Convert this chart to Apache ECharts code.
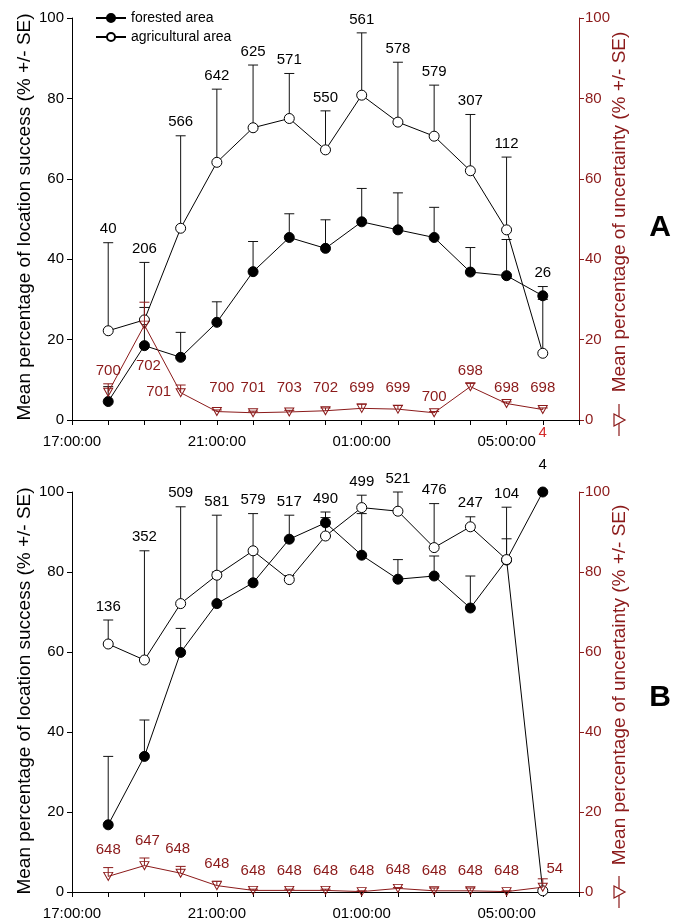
<!DOCTYPE html>
<html><head><meta charset="utf-8">
<script src="https://cdn.jsdelivr.net/npm/echarts@6/dist/echarts.min.js"></script>
<style>html,body{margin:0;padding:0;background:#fff}#c{width:683px;height:922px}</style>
</head><body><div id="c"></div>
<script>
// ---------- data ----------
const hours = [18,19,20,21,22,23,24,25,26,27,28,29,30]; // 18:00 ... 06:00 (next day)
const xTickLabels = ['17:00:00','21:00:00','01:00:00','05:00:00'];

// Panel A
const forestA    = [4.6, 18.5, 15.6, 24.3, 36.9, 45.4, 42.7, 49.3, 47.3, 45.4, 36.8, 35.9, 30.9];
const forestA_se = [3.7, 9.5, 6.2, 5.1, 7.5, 5.9, 7.1, 8.3, 9.2, 7.5, 6.1, 9.0, 2.3];
const agriA      = [22.2, 24.9, 47.7, 64.1, 72.7, 75.0, 67.2, 80.8, 74.1, 70.6, 62.0, 47.3, 16.6];
const agriA_se   = [21.9, 14.3, 23.0, 18.2, 15.6, 11.2, 9.7, 15.5, 14.9, 12.7, 14.0, 18.1, 13.4];
const uncA       = [6.9, 23.6, 6.8, 2.1, 1.8, 2.0, 2.3, 2.9, 2.7, 1.8, 8.3, 4.1, 2.6];
const uncA_se    = [2.1, 5.7, 1.9, 0.4, 0.4, 0.4, 0.7, 1.1, 0.9, 0.3, 0.8, 0.4, 0.4];
const countsA    = [40, 206, 566, 642, 625, 571, 550, 561, 578, 579, 307, 112, 26];
const uncCountsA = [700, 702, 701, 700, 701, 703, 702, 699, 699, 700, 698, 698, 698];
const noteA      = ['4'];

// Panel B
const forestB    = [16.8, 33.9, 59.9, 72.1, 77.3, 88.2, 92.3, 84.2, 78.2, 79.0, 71.0, 83.0, 100];
const forestB_se = [17.1, 9.1, 6.0, 7.9, 7.5, 6.0, 2.7, 10.4, 4.9, 5.0, 8.0, 5.3, 0];
const agriB      = [62.0, 58.0, 72.1, 79.2, 85.3, 78.1, 89.0, 96.1, 95.2, 86.1, 91.3, 83.1, 0.3];
const agriB_se   = [6.0, 27.3, 24.2, 15.0, 9.3, 1.0, 4.6, 3.1, 4.8, 11.0, 2.5, 13.1, 0];
const uncB       = [3.9, 6.6, 4.7, 1.6, 0.4, 0.4, 0.4, 0.1, 0.9, 0.3, 0.3, 0.1, 1.2];
const uncB_se    = [2.2, 1.9, 1.7, 1.1, 0.3, 0.3, 0.3, 0.2, 0.2, 0.7, 0.7, 0.2, 2.1];
const countsB    = [136, 352, 509, 581, 579, 517, 490, 499, 521, 476, 247, 104, 4];
const uncCountsB = [648, 647, 648, 648, 648, 648, 648, 648, 648, 648, 648, 648, 54];

// ---------- styling / layout ----------
const FONT = "'Liberation Sans', Arial, sans-serif";
const RED = '#8b1a1a';
const BRIGHT_RED = '#d42a2a';
const grids = [
  {left: 72, right: 104, top: 18, height: 402},
  {left: 72, right: 104, top: 492, height: 400}
];
// pixel nudges for a few hand-placed count labels in the original
const uncNudge = [
  {1: [4, 76], 2: [-22, 19], 3: [5, 0], 9: [0, 9]},
  {1: [3, 0], 2: [-3, 0], 12: [12, 8]}
];
const cntNudge = [{}, {12: [0, -14]}];
const uncBase = [5, 0.9];
const uncGap = [12.5, 17.5];
const cntGap = [13.5, 13.5];

const panels = [
  {forest: forestA, forestSe: forestA_se, agri: agriA, agriSe: agriA_se, unc: uncA, uncSe: uncA_se, counts: countsA, uncCounts: uncCountsA},
  {forest: forestB, forestSe: forestB_se, agri: agriB, agriSe: agriB_se, unc: uncB, uncSe: uncB_se, counts: countsB, uncCounts: uncCountsB}
];

function fmtX(v) {
  const k = (v - 17) / 4;
  return Number.isInteger(k) && k >= 0 && k < xTickLabels.length ? xTickLabels[k] : '';
}

function errRender(color) {
  return function (params, api) {
    const x = api.value(0), m = api.value(1), se = api.value(2);
    if (!se) return null;
    const p0 = api.coord([x, m]), p1 = api.coord([x, m + se]);
    return {type: 'group', children: [
      {type: 'line', shape: {x1: p0[0], y1: p0[1], x2: p1[0], y2: p1[1]}, style: {stroke: color, lineWidth: 1}},
      {type: 'line', shape: {x1: p1[0] - 5, y1: p1[1], x2: p1[0] + 5, y2: p1[1]}, style: {stroke: color, lineWidth: 1}}
    ]};
  };
}

// text labels anchored on data coordinates, placed `gap` px above (negative: below)
function labelRender(texts, color, gap, nudges) {
  return function (params, api) {
    const k = params.dataIndex;
    const p = api.coord([api.value(0), api.value(1)]);
    const n = nudges[k] || [0, 0];
    return {type: 'text', x: p[0] + n[0], y: p[1] - gap + n[1],
      style: {text: String(texts[k]), fill: color, fontSize: 15, fontFamily: FONT, align: 'center', verticalAlign: 'middle'}};
  };
}

const xAxes = [], yAxes = [], series = [];
panels.forEach((P, i) => {
  xAxes.push({
    type: 'value', gridIndex: i, min: 17, max: 31, interval: 1,
    axisLine: {lineStyle: {color: '#000', width: 1}},
    axisTick: {show: true, length: 5, inside: false, lineStyle: {color: '#000'}},
    axisLabel: {formatter: fmtX, fontSize: 15, fontFamily: FONT, color: '#000', margin: 14, showMinLabel: true},
    splitLine: {show: false}
  });
  yAxes.push({
    type: 'value', gridIndex: i, min: 0, max: 100, interval: 20, position: 'left',
    axisLine: {show: true, lineStyle: {color: '#000'}},
    axisTick: {show: true, length: 5, lineStyle: {color: '#000'}},
    axisLabel: {fontSize: 15, fontFamily: FONT, color: '#000', margin: 8},
    splitLine: {show: false}
  });
  yAxes.push({
    type: 'value', gridIndex: i, min: 0, max: 100, interval: 20, position: 'right',
    axisLine: {show: true, lineStyle: {color: RED}},
    axisTick: {show: true, length: 5, lineStyle: {color: RED}},
    axisLabel: {fontSize: 15, fontFamily: FONT, color: RED, margin: 6},
    splitLine: {show: false}
  });
  const yl = 2 * i, yr = 2 * i + 1;
  const mk = (vals, se) => hours.map((h, k) => [h, vals[k], se[k]]);
  series.push({type: 'custom', xAxisIndex: i, yAxisIndex: yl, renderItem: errRender('#111'), data: mk(P.forest, P.forestSe), z: 1, silent: true, encode: {x: 0, y: 1}});
  series.push({type: 'custom', xAxisIndex: i, yAxisIndex: yl, renderItem: errRender('#111'), data: mk(P.agri, P.agriSe), z: 1, silent: true, encode: {x: 0, y: 1}});
  series.push({type: 'custom', xAxisIndex: i, yAxisIndex: yr, renderItem: errRender(RED), data: mk(P.unc, P.uncSe), z: 5, silent: true, encode: {x: 0, y: 1}});
  series.push({
    name: 'forested area', type: 'line', xAxisIndex: i, yAxisIndex: yl, z: 3,
    data: hours.map((h, k) => [h, P.forest[k]]),
    symbol: 'circle', symbolSize: 10, showAllSymbol: true,
    lineStyle: {color: '#000', width: 1}, itemStyle: {color: '#000', borderColor: '#000', borderWidth: 1}
  });
  series.push({
    name: 'agricultural area', type: 'line', xAxisIndex: i, yAxisIndex: yl, z: 4,
    data: hours.map((h, k) => [h, P.agri[k]]),
    symbol: 'circle', symbolSize: 10, showAllSymbol: true,
    lineStyle: {color: '#000', width: 1}, itemStyle: {color: '#fff', borderColor: '#000', borderWidth: 1}
  });
  series.push({
    name: 'uncertainty', type: 'line', xAxisIndex: i, yAxisIndex: yr, z: 6,
    data: hours.map((h, k) => [h, P.unc[k]]),
    symbol: 'triangle', symbolRotate: 180, symbolSize: [9, 8], showAllSymbol: true,
    lineStyle: {color: RED, width: 1}, itemStyle: {color: 'rgba(255,255,255,0)', borderColor: RED, borderWidth: 1}
  });
  // count labels (location success), above the highest error bar
  series.push({
    type: 'custom', xAxisIndex: i, yAxisIndex: yl, silent: true, z: 7, encode: {x: 0, y: 1},
    data: hours.map((h, k) => [h, Math.max(P.forest[k] + P.forestSe[k], P.agri[k] + P.agriSe[k])]),
    renderItem: labelRender(P.counts, '#000', cntGap[i], cntNudge[i])
  });
  // count labels (uncertainty)
  series.push({
    type: 'custom', xAxisIndex: i, yAxisIndex: yr, silent: true, z: 7, encode: {x: 0, y: 1},
    data: hours.map((h, k) => [h, Math.max(P.unc[k] + P.uncSe[k], uncBase[i])]),
    renderItem: labelRender(P.uncCounts, RED, uncGap[i], uncNudge[i])
  });
});
// stray red note under the last point of panel A
series.push({
  type: 'custom', xAxisIndex: 0, yAxisIndex: 1, silent: true, z: 7, encode: {x: 0, y: 1},
  data: [[hours[hours.length - 1], 0]],
  renderItem: labelRender(noteA, BRIGHT_RED, -13, {})
});

// titles and panel letters
const leftTitle = 'Mean percentage of location success (% +/- SE)';
const rightTitle = 'Mean percentage of uncertainty (% +/- SE)';
const graphic = [];
[[217, 212, 420, 228, 'A'], [691, 685, 892, 698, 'B']].forEach(([ly, ry, sy, ay, letter]) => {
  graphic.push({type: 'text', x: 25, y: ly, rotation: Math.PI / 2,
    style: {text: leftTitle, fontSize: 19, fontFamily: FONT, fill: '#000', align: 'center', verticalAlign: 'middle'}});
  graphic.push({type: 'text', x: 620, y: ry, rotation: Math.PI / 2,
    style: {text: rightTitle, fontSize: 19, fontFamily: FONT, fill: RED, align: 'center', verticalAlign: 'middle'}});
  graphic.push({type: 'line', shape: {x1: 619, y1: sy - 16, x2: 619, y2: sy + 16}, style: {stroke: RED, lineWidth: 1.2}});
  graphic.push({type: 'polygon', shape: {points: [[614, sy - 6], [614, sy + 6], [625, sy]]},
    style: {fill: '#fff', stroke: RED, lineWidth: 1.2}});
  graphic.push({type: 'text', x: 660, y: ay,
    style: {text: letter, fontSize: 30, fontWeight: 'bold', fontFamily: FONT, fill: '#000', align: 'center', verticalAlign: 'middle'}});
});

const chart = echarts.init(document.getElementById('c'), null, {renderer: 'canvas'});
chart.setOption({
  animation: false,
  backgroundColor: '#fff',
  grid: grids,
  xAxis: xAxes,
  yAxis: yAxes,
  legend: {
    data: ['forested area', 'agricultural area'], orient: 'vertical', left: 90, top: 6,
    itemWidth: 30, itemHeight: 10, itemGap: 5, selectedMode: false,
    textStyle: {fontSize: 14, fontFamily: FONT, color: '#000'}
  },
  graphic: graphic,
  series: series
});
</script>
</body></html>
